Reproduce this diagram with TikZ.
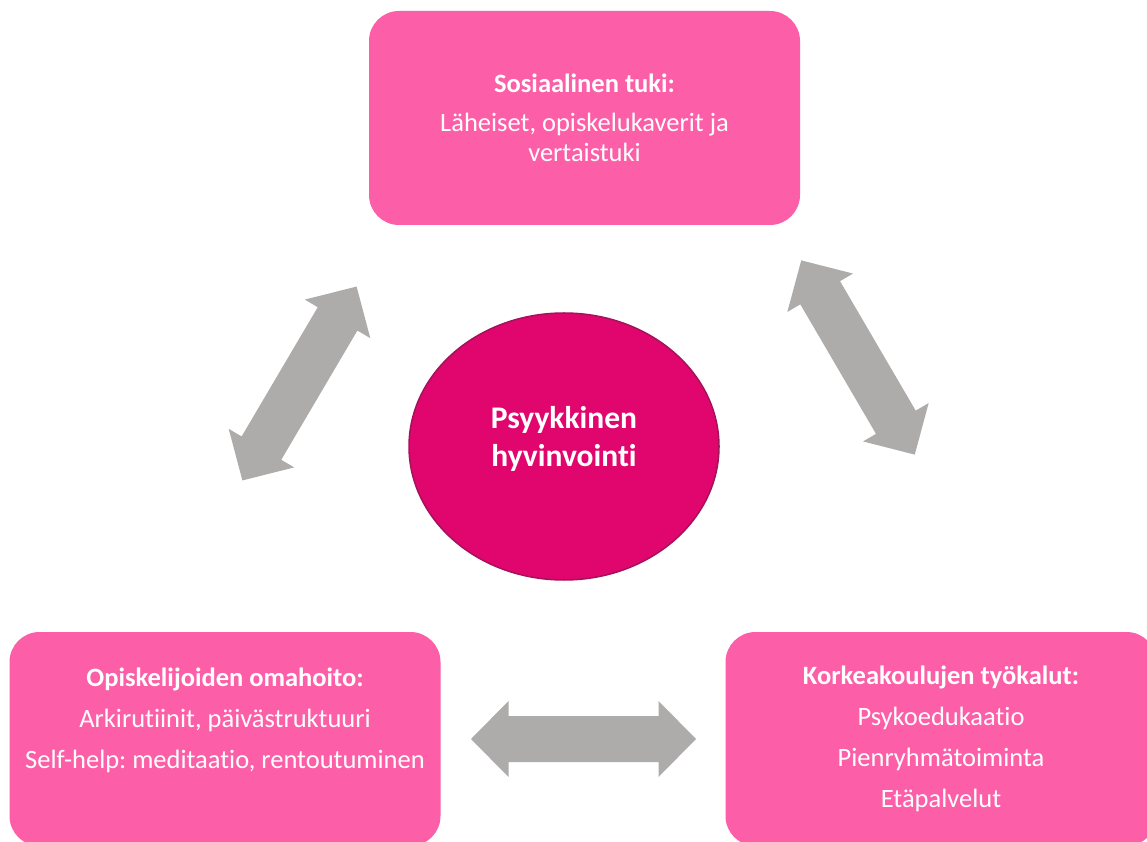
\documentclass[tikz,border=0pt]{standalone}
\usepackage{fontspec}
\setmainfont{Carlito}[Ligatures={NoCommon}]
\usetikzlibrary{shapes.geometric}
\definecolor{boxpink}{HTML}{FC5FA8}
\definecolor{centerpink}{HTML}{E1066E}
\definecolor{centeredge}{HTML}{A3125A}
\definecolor{arrowgray}{HTML}{AEABAB}
\frenchspacing
\begin{document}
\begin{tikzpicture}[x=1pt,y=1pt,
  infobox/.style={fill=boxpink, rounded corners=30pt, minimum width=431pt,
    minimum height=214pt, inner sep=0pt, text=white, align=center},
  dblarrow/.pic={\fill[arrowgray] (-112.5,0) -- (-75,38) -- (-75,23) -- (75,23)
    -- (75,38) -- (112.5,0) -- (75,-38) -- (75,-23) -- (-75,-23) -- (-75,-38) -- cycle;}]
\useasboundingbox (0,0) rectangle (1147,841);
\clip (0,0) rectangle (1147,841);
\fill[white] (0,0) rectangle (1147,841);

\node[infobox, font=\fontsize{26.5}{30}\selectfont] (social) at (584.5,723)
  {\textbf{Sosiaalinen tuki:}\\[9pt]Läheiset, opiskelukaverit ja\\vertaistuki};
\node[infobox, font=\fontsize{26.5}{41}\selectfont] (selfcare) at (225,102)
  {\textbf{Opiskelijoiden omahoito:}\\Arkirutiinit, päivästruktuuri\\Self-help: meditaatio, rentoutuminen\\\mbox{}};
\node[infobox, font=\fontsize{26.5}{41}\selectfont] (tools) at (941,102)
  {\textbf{Korkeakoulujen työkalut:}\\Psykoedukaatio\\Pienryhmätoiminta\\Etäpalvelut};

\node[ellipse, fill=centerpink, draw=centeredge, line width=1.5pt,
  minimum width=310pt, minimum height=267pt, inner sep=0pt] (wellbeing) at (564,394.5) {};
\node[text=white, align=center, font=\bfseries\fontsize{31.5}{38}\selectfont]
  (wellbeingtext) at (564,402) {Psyykkinen\\hyvinvointi};

\pic[rotate=59.5] (arrowleft) at (299.5,457.5) {dblarrow};
\pic[rotate=-59.7] (arrowright) at (858,483.5) {dblarrow};
\pic (arrowbottom) at (583.5,102) {dblarrow};
\end{tikzpicture}
\end{document}
